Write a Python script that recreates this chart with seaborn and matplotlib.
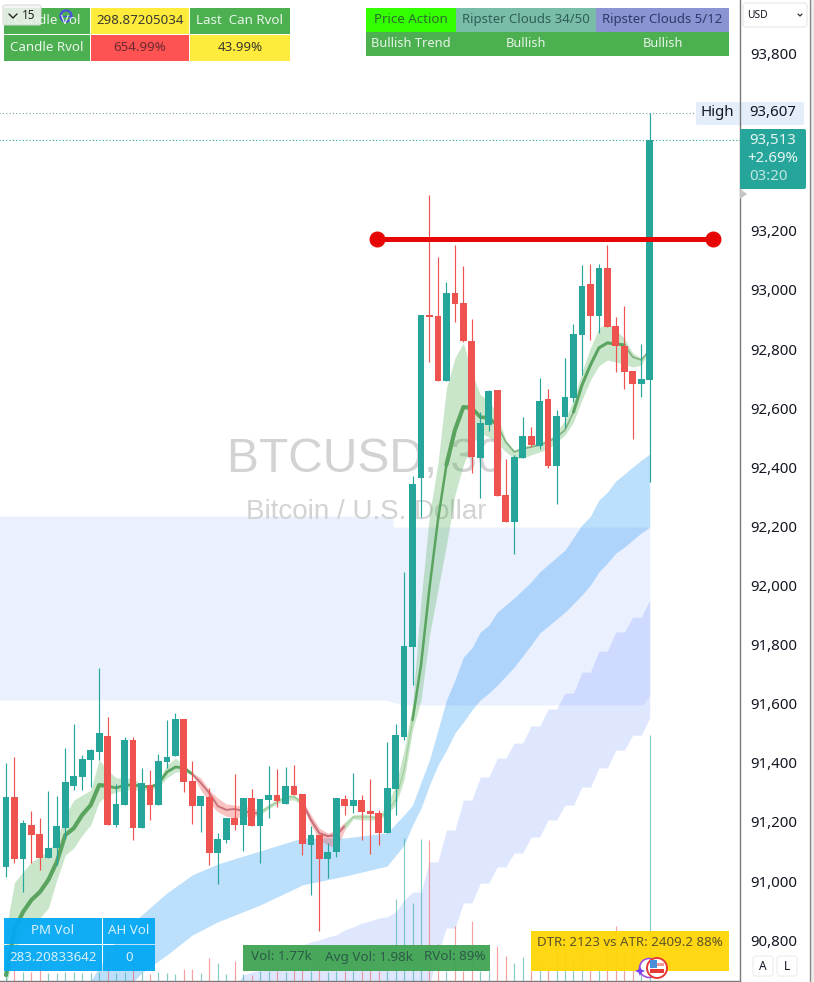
import pandas as pd
import seaborn as sns
import matplotlib
matplotlib.use("Agg")
import matplotlib.pyplot as plt
from matplotlib.patches import Rectangle, FancyBboxPatch, Circle, Polygon
from matplotlib.transforms import ScaledTranslation

# candles, one entry per 30 min bar
bar_dir = "GRGRRGGGGGGGRGGRGRGGGRRGRGGRGRGGRGRRGRGGRGRRRGGGGGRRGRRRGGRRGGRGRGGGGRGRRRRGG"
candle_high = [91404, 91425, 91211, 91242, 91218, 91309, 91293, 91455, 91536, 91431, 91452, 91726, 91560, 91333, 91492, 91492,
               91387, 91380, 91435, 91550, 91574, 91553, 91411, 91293, 91320, 91167, 91218, 91367, 91286, 91316, 91282, 91394,
               91384, 91391, 91397, 91299, 91191, 91161, 91134, 91286, 91296, 91370, 91296, 91350, 91245, 91475, 91536, 92051,
               92376, 92920, 93326, 93116, 93032, 93157, 93086, 92907, 92592, 92666, 92666, 92433, 92447, 92575, 92541, 92707,
               92670, 92599, 92775, 92890, 93089, 93093, 93093, 93157, 92913, 92951, 92731, 92822, 93604]
body_top = [91289, 91289, 91201, 91194, 91164, 91117, 91191, 91340, 91360, 91418, 91448, 91506, 91496, 91265, 91482, 91482,
            91336, 91330, 91411, 91425, 91553, 91553, 91343, 91293, 91289, 91147, 91218, 91218, 91286, 91286, 91282, 91296,
            91296, 91326, 91326, 91299, 91161, 91161, 91103, 91286, 91282, 91279, 91279, 91242, 91235, 91320, 91499, 91800,
            92349, 92920, 92920, 92917, 92995, 92995, 92961, 92832, 92555, 92663, 92666, 92311, 92440, 92511, 92511, 92629,
            92636, 92579, 92643, 92856, 93018, 93025, 93079, 93079, 92883, 92815, 92731, 92704, 93512]
body_bottom = [91053, 91080, 91080, 91161, 91083, 91083, 91117, 91184, 91326, 91357, 91414, 91442, 91194, 91194, 91262, 91184,
               91184, 91262, 91262, 91408, 91428, 91340, 91259, 91259, 91100, 91100, 91144, 91194, 91194, 91191, 91191, 91279,
               91276, 91265, 91296, 91130, 91127, 91080, 91080, 91103, 91259, 91259, 91238, 91232, 91167, 91167, 91316, 91492,
               91797, 92369, 92913, 92697, 92697, 92957, 92832, 92440, 92436, 92548, 92308, 92220, 92220, 92436, 92480, 92477,
               92409, 92409, 92575, 92639, 92853, 92917, 92917, 92880, 92815, 92727, 92687, 92687, 92700]
candle_low = [91019, 91066, 90968, 91066, 91043, 91083, 91059, 91147, 91313, 91313, 91323, 91414, 91194, 91188, 91262, 91144,
              91184, 91211, 91262, 91387, 91428, 91306, 91198, 91171, 91059, 90995, 91134, 91178, 91106, 91191, 91066, 91218,
              91255, 91265, 91296, 91093, 90958, 90836, 91015, 91086, 91228, 91235, 91144, 91096, 91127, 91167, 91228, 91482,
              91668, 92237, 92761, 92697, 92697, 92897, 92829, 92386, 92301, 92528, 92308, 92220, 92112, 92436, 92474, 92467,
              92403, 92281, 92538, 92626, 92717, 92836, 92859, 92880, 92727, 92670, 92501, 92643, 92355]
volume = [79, 223, 65, 65, 238, 58, 58, 65, 65, 58, 58, 65, 245, 58, 65, 223,
          65, 50, 65, 58, 50, 86, 86, 58, 166, 130, 50, 144, 50, 43, 72, 72,
          72, 65, 101, 101, 72, 209, 65, 72, 72, 72, 72, 130, 72, 72, 590, 1030,
          562, 1022, 1015, 266, 72, 396, 72, 432, 72, 72, 252, 180, 130, 173, 72, 122,
          86, 346, 331, 158, 346, 137, 122, 324, 396, 216, 295, 101, 1771]

# fast ripster cloud, every bar
fast_upper = [90840, 91001, 91036, 91070, 91087, 91110, 91144, 91229, 91279, 91296, 91313, 91415, 91381, 91354, 91354, 91354,
              91330, 91327, 91347, 91398, 91421, 91398, 91371, 91354, 91313, 91286, 91266, 91262, 91259, 91252, 91246, 91262,
              91279, 91296, 91296, 91279, 91229, 91184, 91167, 91178, 91205, 91229, 91232, 91229, 91225, 91262, 91330, 91448,
              91601, 91956, 92244, 92420, 92673, 92775, 92826, 92727, 92650, 92633, 92582, 92497, 92463, 92477, 92480, 92491,
              92497, 92524, 92565, 92633, 92727, 92809, 92876, 92893, 92870, 92842, 92792, 92775, 92809]
fast_lower = [90653, 90755, 90840, 90856, 90880, 90914, 91009, 91093, 91117, 91161, 91195, 91273, 91296, 91306, 91313, 91313,
              91313, 91313, 91323, 91354, 91374, 91374, 91364, 91313, 91269, 91239, 91225, 91218, 91225, 91222, 91229, 91249,
              91266, 91279, 91279, 91262, 91195, 91144, 91127, 91117, 91178, 91215, 91212, 91212, 91212, 91229, 91262, 91347,
              91516, 91618, 91838, 91990, 92142, 92311, 92413, 92480, 92521, 92507, 92487, 92457, 92436, 92436, 92447, 92457,
              92467, 92491, 92514, 92558, 92633, 92700, 92748, 92768, 92761, 92754, 92744, 92751, 92802]
fast_line = [90687, 90840, 90900, 90941, 90968, 91009, 91070, 91161, 91184, 91229, 91262, 91330, 91327, 91320, 91330, 91330,
             91327, 91323, 91334, 91374, 91391, 91388, 91367, 91337, 91303, 91259, 91246, 91249, 91242, 91235, 91235, 91256,
             91273, 91290, 91290, 91269, 91212, 91167, 91157, 91161, 91191, 91222, 91222, 91222, 91218, 91239, 91279, 91381,
             91550, 91736, 91997, 92227, 92413, 92531, 92609, 92606, 92575, 92572, 92548, 92491, 92457, 92467, 92474, 92480,
             92491, 92507, 92531, 92592, 92683, 92751, 92809, 92826, 92822, 92819, 92778, 92768, 92802]

# slow ripster cloud, read at these bars
slow_bars = [10, 13, 16, 19, 22, 25, 30, 35, 40, 45, 47, 48, 49, 50, 51, 52, 53, 54, 55, 56, 57, 58, 60, 62, 63, 66, 68, 69, 70, 71, 72, 73, 74, 75, 76]
slow_upper = [90667, 90806, 90890, 90965, 91026, 91063, 91107, 91151, 91151, 91168, 91229, 91262, 91340, 91415, 91516, 91618, 91685,
              91763, 91794, 91848, 91871, 91915, 91963, 92017, 92051, 92125, 92210, 92240, 92294, 92321, 92359, 92382, 92406, 92429, 92450]
slow_lower = [90467, 90603, 90694, 90755, 90823, 90867, 90924, 90992, 91022, 91056, 91127, 91195, 91252, 91330, 91398, 91448, 91506,
              91543, 91584, 91618, 91641, 91668, 91729, 91804, 91844, 91915, 91973, 92007, 92051, 92081, 92115, 92135, 92159, 92183, 92203]

# stepped higher timeframe cloud, bars 27 to 76
step_bars = list(range(27, 77))
step_upper = [90653, 90687, 90697, 90704, 90721, 90738, 90755, 90772, 90789, 90799, 90806, 90816, 90823, 90840, 90850, 90863,
              90870, 90880, 90884, 90900, 90941, 90968, 90968, 91070, 91070, 91178, 91178, 91279, 91279, 91357, 91357, 91421,
              91421, 91472, 91472, 91530, 91530, 91587, 91587, 91641, 91641, 91712, 91712, 91783, 91783, 91848, 91848, 91898,
              91898, 91956]
step_lower = [90603, 90603, 90603, 90603, 90603, 90603, 90603, 90603, 90603, 90603, 90603, 90603, 90603, 90603, 90603, 90603,
              90603, 90603, 90603, 90603, 90603, 90603, 90603, 90653, 90762, 90846, 90846, 90931, 90931, 90998, 90998, 91053,
              91053, 91100, 91100, 91154, 91154, 91212, 91212, 91262, 91262, 91323, 91323, 91388, 91388, 91448, 91448, 91499,
              91499, 91557]

# pale supply zone
zone_bars = [-1, 44.7, 45.7, 45.7, 46.8, 75.2, 76]
zone_top = [92240, 92240, 92240, 92203, 92203, 92203, 92203]
zone_bottom = [91618, 91618, 91610, 91610, 91601, 91601, 91635]

price_ticks = [90800, 91000, 91200, 91400, 91600, 91800, 92000, 92200, 92400, 92600, 92800, 93000, 93200, 93800]
level_price = 93177
level_bars = [43.8, 83.5]

UP = "#26a69a"
DOWN = "#ef5350"
CLOUD_G = "#4caf50"
CLOUD_R = "#ef5350"
LINE_G = "#5aa460"
LINE_R = "#c9727c"
TXT = ["Noto Sans", "DejaVu Sans"]

sns.set_theme(style="white")
plt.rcParams["font.family"] = TXT

bars = list(range(len(bar_dir)))
df = pd.DataFrame({
    "bar": bars, "dir": list(bar_dir), "high": candle_high, "top": body_top, "bottom": body_bottom,
    "low": candle_low, "volume": volume, "upper": fast_upper, "lower": fast_lower, "line": fast_line,
})
df["color"] = df["dir"].map({"G": UP, "R": DOWN})

fig = plt.figure(figsize=(8.14, 9.82), dpi=100, facecolor="white")
ax = fig.add_axes([0, 1 / 982, 739.5 / 814, 981 / 982])
ax.set_xlim(-0.708, 86.6)
ax.set_ylim(90667, 93986)

ax.text(42.4, 92430, "BTCUSD, 30", family="Liberation Sans", fontsize=34.5, color="#d3d3d5",
        ha="center", va="center", zorder=1)
ax.text(42.5, 92255, "Bitcoin / U.S. Dollar", family="Liberation Sans", fontsize=20, color="#d3d3d5",
        ha="center", va="center", zorder=1)

ax.fill_between(zone_bars, zone_bottom, zone_top, color="#2962ff", alpha=0.09, lw=0, zorder=0.5)
ax.fill_between(slow_bars, slow_lower, slow_upper, color="#2196f3", alpha=0.3, lw=0, zorder=1.2)
ax.fill_between(step_bars, step_lower, step_upper, color="#2962ff", alpha=0.15, lw=0, zorder=1.3)

# cloud changes colour with the ema cross
for start, end, col, alpha in [(0, 22, CLOUD_G, 0.3), (22, 30, CLOUD_R, 0.35), (30, 35, CLOUD_G, 0.3),
                               (35, 40, CLOUD_R, 0.35), (40, 76, CLOUD_G, 0.3)]:
    part = df[(df.bar >= start) & (df.bar <= end)]
    ax.fill_between(part.bar, part.lower, part.upper, color=col, alpha=alpha, lw=0, zorder=1.5)

for start, end, col, width in [(0, 12, LINE_G, 3.0), (12, 22, LINE_G, 2.0), (22, 30, LINE_R, 1.4), (30, 35, "#a5d0a0", 1.4),
                               (35, 40, LINE_R, 1.6), (40, 48, "#a5d0a0", 1.0), (48, 52, LINE_G, 1.8), (52, 55, LINE_G, 3.0),
                               (55, 58, LINE_G, 2.6), (58, 67, "#7fb27f", 1.2), (67, 73, LINE_G, 2.2), (73, 76, "#7fb27f", 1.2)]:
    part = df[(df.bar >= start) & (df.bar <= end)]
    sns.lineplot(data=part, x="bar", y="line", color=col, linewidth=width, ax=ax, zorder=1.7, legend=False, errorbar=None,
                 solid_capstyle="round")

ax.vlines(df.bar, df.low, df.high, colors=df.color, linewidth=0.85, zorder=3)
ax.bar(df.bar, df.top - df.bottom, bottom=df.bottom, width=0.8, color=df.color, linewidth=0, zorder=4)

ax.hlines(93604, -1, 81.2, color="#7f9fa6", linewidth=0.8, linestyle=(0, (1, 2)), zorder=2)
ax.hlines(93512, -1, 88, color=UP, linewidth=0.8, linestyle=(0, (1, 2)), zorder=2)

ax.plot(level_bars, [level_price, level_price], color="#e60606", linewidth=3.6, marker="o", markersize=10.5, zorder=5,
        solid_capstyle="butt")

ax2 = ax.twinx()
ax2.set_ylim(0, 7063)
ax2.vlines(df.bar, 0, df.volume, colors=df.color, linewidth=0.85, alpha=0.55)
ax2.set_yticks([])
ax2.grid(False)
for s in ax2.spines.values():
    s.set_visible(False)

ax.set_xticks([])
ax.set_xlabel("")
ax.set_ylabel("")
ax.set_yticks(price_ticks)
ax.set_yticklabels([f"{p:,}" for p in price_ticks], fontsize=10.8, color="#131722")
ax.yaxis.tick_right()
ax.tick_params(axis="y", length=0, pad=7.5)
lift = ScaledTranslation(0, 1.5 / 100, fig.dpi_scale_trans)
for lab in ax.get_yticklabels():
    lab.set_transform(lab.get_transform() + lift)
ax.grid(False)
for name, s in ax.spines.items():
    s.set_visible(name in ("right", "bottom"))
    s.set_color("#7a7a7a")
    s.set_linewidth(1)

# panels sit on a pixel overlay
ov = fig.add_axes([0, 0, 1, 1], zorder=10)
ov.set_xlim(0, 814)
ov.set_ylim(982, 0)
ov.axis("off")
ov.patch.set_alpha(0)


def cell(x0, x1, y0, y1, bg, text="", fg="white", size=9.6, alpha=1.0):
    ov.add_patch(Rectangle((x0, y0), x1 - x0, y1 - y0, facecolor=bg, edgecolor="none", alpha=alpha))
    if text:
        ov.text((x0 + x1) / 2, (y0 + y1) / 2 - 0.5, text, color=fg, fontsize=size, ha="center", va="center")


GREEN = "#4caf50"
YELLOW = "#ffeb3b"
DARK = "#3a3a30"
cell(4, 90, 8, 34, GREEN, "Candle Vol", "#e8f5e9")
cell(91, 189, 8, 34, YELLOW, "298.87205034", DARK)
cell(190, 290, 8, 34, GREEN, "Last  Can Rvol", "#e8f5e9")
cell(4, 90, 35, 61, GREEN, "Candle Rvol", "#e8f5e9")
cell(91, 189, 35, 61, "#ff5252", "654.99%", "#6b2a30")
cell(190, 290, 35, 61, YELLOW, "43.99%", DARK)

# interval box and the small ring over it
ov.add_patch(FancyBboxPatch((3, 5), 38, 20, boxstyle="round,pad=0,rounding_size=2", facecolor="#f2f5f2", edgecolor="#d5dad5",
                            linewidth=0.8, alpha=0.88))
ov.plot([9, 13, 17], [14, 18, 14], color="#222222", linewidth=1)
ov.text(29, 15.5, "15", fontsize=8.5, color="#222222", ha="center", va="center")
ov.add_patch(Circle((66, 16), 5.5, facecolor="none", edgecolor="#4a4fdc", linewidth=1.6))
ov.plot([60, 72], [16, 16], color="#4a4fdc", linewidth=1)

cell(366, 456, 8, 32, "#33ff00", "Price Action", "#2e6b2a")
cell(456, 596, 8, 32, "#79bda8", "Ripster Clouds 34/50", "#2f5f58", 9.5)
cell(596, 729, 8, 32, "#8a94d2", "Ripster Clouds 5/12", "#2f3a6a", 9.5)
cell(366, 729, 32, 56, GREEN)
for cx, lab in [(411, "Bullish Trend"), (526, "Bullish"), (663, "Bullish")]:
    ov.text(cx, 43, lab, color="#e8f5e9", fontsize=9.2, weight="semibold", ha="center", va="center")

cell(4, 102, 918, 944, "#03a9f4", "PM Vol", "#d6f0fb", alpha=0.95)
cell(103, 155, 918, 944, "#03a9f4", "AH Vol", "#d6f0fb", alpha=0.95)
cell(4, 102, 945, 971, "#03a9f4", "283.20833642", "#d6f0fb", alpha=0.95)
cell(103, 155, 945, 971, "#03a9f4", "0", "#d6f0fb", alpha=0.95)

cell(243, 490, 945, 971, "#43a556", alpha=0.97)
for cx, lab in [(281, "Vol: 1.77k"), (369, "Avg Vol: 1.98k"), (455, "RVol: 89%")]:
    ov.text(cx, 957, lab, color="#2c5c48", fontsize=9.7, ha="center", va="center")

cell(531, 729, 931, 971, "#ffd60a", alpha=0.97)
ov.text(630, 942.5, "DTR: 2123 vs ATR: 2409.2 88%", color="#5c5428", fontsize=9.6, ha="center", va="center")

# session icons
ov.add_patch(Circle((649, 968), 9.5, facecolor="white", edgecolor="#a050e0", linewidth=1.2))
ov.add_patch(Polygon([(640, 966), (641.5, 969.5), (645, 971), (641.5, 972.5), (640, 976), (638.5, 972.5), (635, 971), (638.5, 969.5)],
                     facecolor="#7a3ff0", edgecolor="none"))
ov.add_patch(Circle((657, 968), 10, facecolor="white", edgecolor="#e53935", linewidth=1.4))
ov.add_patch(Rectangle((650, 963), 14, 3, facecolor="#ef9a9a", edgecolor="none"))
ov.add_patch(Rectangle((650, 969), 14, 3.5, facecolor="#e53935", edgecolor="none"))
ov.add_patch(Rectangle((650, 960), 7, 8, facecolor="#4a90d9", edgecolor="none"))

# price scale furniture
ov.add_patch(Rectangle((810, 0), 4, 982, facecolor="#ececec", edgecolor="none"))
ov.plot([809.5, 809.5], [0, 981], color="#8a8a8a", linewidth=1)
ov.add_patch(FancyBboxPatch((743, 3), 64, 24, boxstyle="round,pad=0,rounding_size=3", facecolor="white", edgecolor="#e6e6e6", linewidth=0.8))
ov.text(747, 15, "USD", fontsize=7.4, color="#131722", ha="left", va="center")
ov.plot([798, 800, 802], [14, 16, 14], color="#333333", linewidth=0.9)
ov.add_patch(FancyBboxPatch((696, 102), 108, 23, boxstyle="round,pad=0,rounding_size=2", facecolor="#e3eefa", edgecolor="none"))
ov.plot([739.5, 739.5], [102, 125], color="#7a7a7a", linewidth=1)
ov.text(717, 112.5, "High", fontsize=10.8, color="#131722", ha="center", va="center")
ov.text(773, 112.5, "93,607", fontsize=10.8, color="#131722", ha="center", va="center")
ov.add_patch(FancyBboxPatch((740, 129), 66, 60, boxstyle="round,pad=0,rounding_size=2", facecolor=UP, edgecolor="none"))
ov.text(773, 140, "93,513", fontsize=10.8, color="#e6f5f3", ha="center", va="center")
ov.text(773, 158.5, "+2.69%", fontsize=10.8, color="#e6f5f3", ha="center", va="center")
ov.text(769, 176.5, "03:20", fontsize=10.8, color="#bfe6e1", ha="center", va="center")
ov.add_patch(Polygon([(740, 189), (747, 194), (740, 199)], facecolor="#c4c4c4", edgecolor="none"))
for x0, lab in [(753, "A"), (777, "L")]:
    ov.add_patch(FancyBboxPatch((x0, 956), 20, 20, boxstyle="round,pad=0,rounding_size=3", facecolor="white", edgecolor="#ececec", linewidth=0.8))
    ov.text(x0 + 10, 966, lab, fontsize=8.6, color="#131722", ha="center", va="center")

fig.savefig("out.png", dpi=100)
